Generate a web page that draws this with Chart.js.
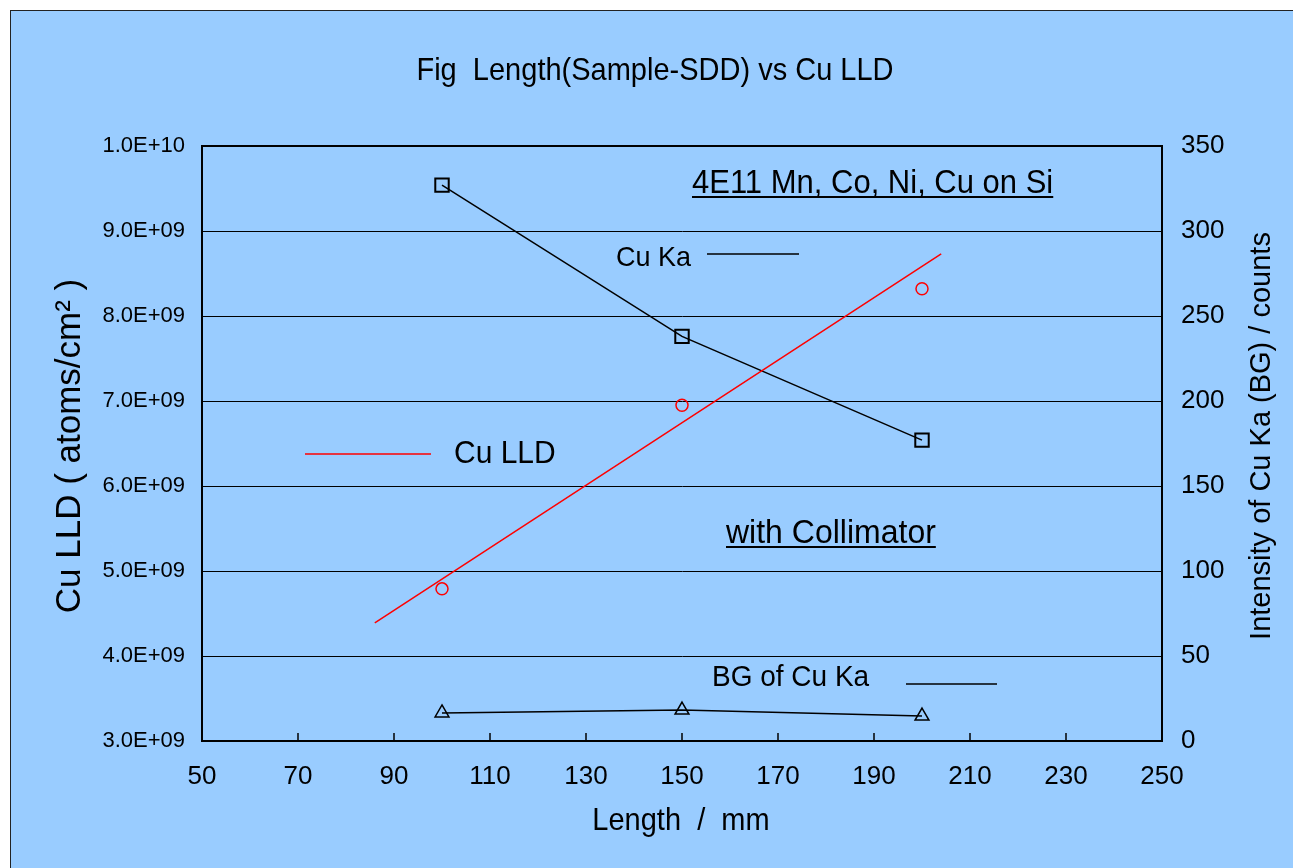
<!DOCTYPE html>
<html>
<head>
<meta charset="utf-8">
<title>Length(Sample-SDD) vs Cu LLD</title>
<script src="https://cdn.jsdelivr.net/npm/chart.js@4.4.0/dist/chart.umd.min.js"></script>
<style>
  html, body { margin: 0; padding: 0; background: #fff; }
  canvas { display: block; }
</style>
</head>
<body>
<canvas id="chart" width="1293" height="868"></canvas>
<script>
// values
const lengths = [100, 150, 200];                 // mm
const cuLLD = [4.79e9, 6.95e9, 8.32e9];          // atoms/cm2 (left axis)
const cuKa = [327, 238, 177];                    // counts (right axis)
const bgCuKa = [16.5, 18.2, 14.7];               // counts (right axis)
const trendLengths = [86, 204];                  // ends of the red fit line
const trendLLD = [4.39e9, 8.73e9];

const xTicks = [50, 70, 90, 110, 130, 150, 170, 190, 210, 230, 250];
const lldTicks = [3e9, 4e9, 5e9, 6e9, 7e9, 8e9, 9e9, 1e10];
const countTicks = [0, 50, 100, 150, 200, 250, 300, 350];

const FONT = '"Liberation Sans", Arial, sans-serif';
const BLUE = '#99ccff';
const STRETCH = 1.05;   // the original text is a little taller than wide

// text placed on the plot (pixel positions)
const notes = [
    { text: '4E11 Mn, Co, Ni, Cu on Si', x: 692, y: 193, size: 31, underline: true },
    { text: 'Cu Ka', x: 616, y: 266, size: 27 },
    { text: 'Cu LLD', x: 454, y: 463, size: 30 },
    { text: 'with Collimator', x: 726, y: 543, size: 32, underline: true },
    { text: 'BG of Cu Ka', x: 712, y: 686, size: 28 }
];
const keyLines = [
    { x1: 707, x2: 799, y: 254, color: '#000' },
    { x1: 305, x2: 431, y: 454, color: '#ff0000' },
    { x1: 906, x2: 997, y: 684, color: '#000' }
];

// 9000000000 -> 9.0E+09
function sci(v) {
    const parts = v.toExponential(1).split('e');
    const n = parseInt(parts[1], 10);
    return parts[0] + 'E' + (n < 0 ? '-' : '+') + String(Math.abs(n)).padStart(2, '0');
}

function pts(xs, ys) {
    return xs.map((x, i) => ({ x: x, y: ys[i] }));
}

function useTicks(list) {
    return scale => { scale.ticks = list.map(v => ({ value: v })); };
}

function drawText(c, str, x, y, size, align, angle) {
    c.save();
    c.translate(x, y);
    if (angle) c.rotate(angle);
    else c.scale(1, STRETCH);
    c.font = size + 'px ' + FONT;
    c.fillStyle = '#000';
    c.textAlign = align || 'left';
    c.textBaseline = 'alphabetic';
    c.fillText(str, 0, 0);
    c.restore();
}

const decorations = {
    id: 'decorations',
    beforeDraw(chart) {
        const c = chart.ctx;
        c.save();
        c.fillStyle = '#fff';
        c.fillRect(0, 0, chart.width, chart.height);
        c.fillStyle = BLUE;
        c.fillRect(10, 10, chart.width, chart.height);
        c.strokeStyle = '#222';
        c.lineWidth = 1;
        c.strokeRect(10.5, 10.5, chart.width + 20, chart.height + 20);
        c.restore();
    },
    afterDraw(chart) {
        const c = chart.ctx;
        const area = chart.chartArea;
        const xs = chart.scales.x;

        // inward tick marks on the bottom axis
        c.save();
        c.strokeStyle = '#000';
        c.lineWidth = 1.5;
        xTicks.forEach(v => {
            const px = Math.round(xs.getPixelForValue(v));
            c.beginPath();
            c.moveTo(px, area.bottom);
            c.lineTo(px, area.bottom - 8);
            c.stroke();
        });
        c.restore();

        // titles
        drawText(c, 'Fig  Length(Sample-SDD) vs Cu LLD', 655, 80, 29, 'center');
        drawText(c, 'Length  /  mm', 681, 830, 29, 'center');
        drawText(c, 'Cu LLD ( atoms/cm\u00b2 )', 80, 446, 35, 'center', -Math.PI / 2);
        drawText(c, 'Intensity of Cu Ka (BG) / counts', 1270, 436, 29, 'center', -Math.PI / 2);

        // notes and key lines
        notes.forEach(n => {
            drawText(c, n.text, n.x, n.y, n.size);
            if (n.underline) {
                c.save();
                c.font = n.size + 'px ' + FONT;
                const w = c.measureText(n.text).width;
                c.strokeStyle = '#000';
                c.lineWidth = 2;
                c.beginPath();
                c.moveTo(n.x, n.y + 4);
                c.lineTo(n.x + w, n.y + 4);
                c.stroke();
                c.restore();
            }
        });
        keyLines.forEach(k => {
            c.save();
            c.strokeStyle = k.color;
            c.lineWidth = 1.5;
            c.beginPath();
            c.moveTo(k.x1, k.y);
            c.lineTo(k.x2, k.y);
            c.stroke();
            c.restore();
        });
    }
};

new Chart(document.getElementById('chart'), {
    type: 'scatter',
    data: {
        datasets: [
            {
                label: 'Cu LLD fit',
                data: pts(trendLengths, trendLLD),
                yAxisID: 'y',
                showLine: true,
                borderColor: '#ff0000',
                borderWidth: 1.5,
                pointRadius: 0
            },
            {
                label: 'Cu LLD',
                data: pts(lengths, cuLLD),
                yAxisID: 'y',
                showLine: false,
                pointStyle: 'circle',
                pointRadius: 6,
                pointBorderWidth: 1.5,
                pointBorderColor: '#ff0000',
                pointBackgroundColor: 'rgba(0,0,0,0)'
            },
            {
                label: 'Cu Ka',
                data: pts(lengths, cuKa),
                yAxisID: 'y1',
                showLine: true,
                borderColor: '#000',
                borderWidth: 1.5,
                pointStyle: 'rect',
                pointRadius: 9.5,
                pointBorderWidth: 2,
                pointBorderColor: '#000',
                pointBackgroundColor: 'rgba(0,0,0,0)'
            },
            {
                label: 'BG of Cu Ka',
                data: pts(lengths, bgCuKa),
                yAxisID: 'y1',
                showLine: true,
                borderColor: '#000',
                borderWidth: 1.5,
                pointStyle: 'triangle',
                pointRadius: 8,
                pointBorderWidth: 1.5,
                pointBorderColor: '#000',
                pointBackgroundColor: 'rgba(0,0,0,0)'
            }
        ]
    },
    options: {
        responsive: false,
        devicePixelRatio: 1,
        animation: false,
        layout: { padding: { top: 146, left: 0, right: 0, bottom: 0 } },
        plugins: {
            legend: { display: false },
            tooltip: { enabled: false },
            title: { display: false }
        },
        scales: {
            x: {
                type: 'linear',
                min: 50,
                max: 250,
                afterBuildTicks: useTicks(xTicks),
                afterFit: s => { s.height = 127; },
                grid: { display: false, drawTicks: false },
                border: { display: true, color: '#000', width: 2 },
                ticks: {
                    color: '#000',
                    font: { family: FONT, size: 26 },
                    padding: 20,
                    maxRotation: 0,
                    autoSkip: false
                }
            },
            y: {
                position: 'left',
                min: 3e9,
                max: 1e10,
                afterBuildTicks: useTicks(lldTicks),
                afterFit: s => { s.width = 202; },
                grid: {
                    color: '#000',
                    lineWidth: ctx => (ctx.tick && ctx.tick.value === 1e10 ? 2 : 1),
                    drawTicks: false
                },
                border: { color: '#000', width: 2 },
                ticks: {
                    color: '#000',
                    font: { family: FONT, size: 22 },
                    padding: 17,
                    callback: v => sci(v)
                }
            },
            y1: {
                position: 'right',
                min: 0,
                max: 350,
                afterBuildTicks: useTicks(countTicks),
                afterFit: s => { s.width = 131; },
                grid: { drawOnChartArea: false, drawTicks: false },
                border: { color: '#000', width: 2 },
                ticks: {
                    color: '#000',
                    font: { family: FONT, size: 26 },
                    padding: 19
                }
            }
        }
    },
    plugins: [decorations]
});
</script>
</body>
</html>
